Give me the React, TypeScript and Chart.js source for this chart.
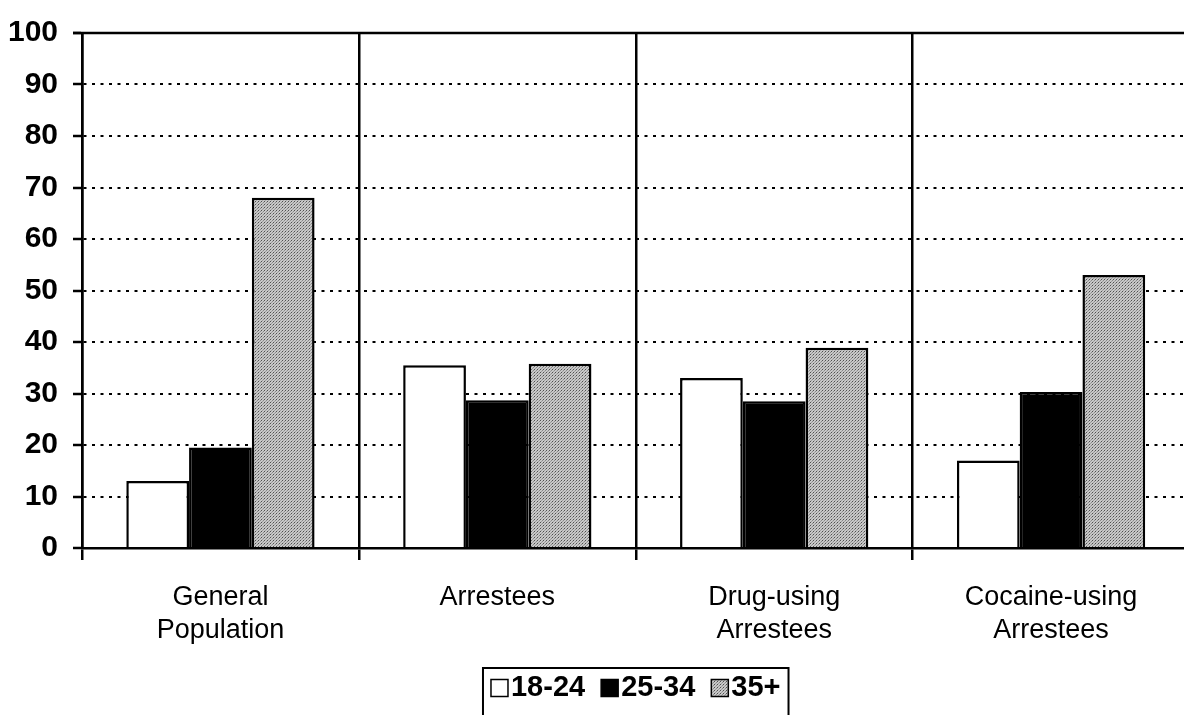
import React, { useEffect, useRef } from "react";
import { Chart, registerables } from "chart.js";

Chart.register(...registerables);

const categories: string[][] = [
  ["General", "Population"],
  ["Arrestees"],
  ["Drug-using", "Arrestees"],
  ["Cocaine-using", "Arrestees"],
];
const seriesLabels = ["18-24", "25-34", "35+"];
const age18to24 = [13, 35.5, 33, 17];
const age25to34 = [19.5, 28.7, 28.5, 30.3];
const age35plus = [68, 35.8, 38.9, 53];
const yTicks = [0, 10, 20, 30, 40, 50, 60, 70, 80, 90, 100];

const FONT = "'Liberation Sans', Arial, Helvetica, sans-serif";
const CANVAS_W = 1272;
const CANVAS_H = 730;

function makeStipple(): CanvasPattern | string {
  const c = document.createElement("canvas");
  c.width = 3;
  c.height = 3;
  const g = c.getContext("2d");
  if (!g) return "#b0b0b0";
  g.fillStyle = "#c8c8c8";
  g.fillRect(0, 0, 3, 3);
  g.fillStyle = "#505050";
  g.fillRect(0, 0, 1, 1);
  g.fillStyle = "#888888";
  g.fillRect(2, 1, 1, 1);
  g.fillStyle = "#9c9c9c";
  g.fillRect(1, 2, 1, 1);
  const p = g.createPattern(c, "repeat");
  return p || "#b0b0b0";
}

const frameAndLegend = {
  id: "frameAndLegend",
  afterDraw(chart: any) {
    const ctx = chart.ctx as CanvasRenderingContext2D;
    const area = chart.chartArea;
    ctx.save();
    // solid top border of plot area
    ctx.strokeStyle = "#000";
    ctx.lineWidth = 2.5;
    ctx.setLineDash([]);
    ctx.beginPath();
    ctx.moveTo(area.left - 9, area.top);
    ctx.lineTo(area.right, area.top);
    ctx.stroke();

    // boxed legend
    ctx.font = `bold 29px ${FONT}`;
    const box = 17;
    const gapBoxText = 3;
    const gapItems = 16;
    const padX = 8;
    const ds = chart.data.datasets;
    const widths = ds.map(
      (d: any) => box + gapBoxText + ctx.measureText(d.label).width
    );
    const total =
      widths.reduce((a: number, b: number) => a + b, 0) +
      gapItems * (widths.length - 1);
    const cx = (area.left + area.right) / 2;
    const left = cx - total / 2 - padX;
    const top = 668;
    ctx.lineWidth = 2;
    ctx.strokeRect(left, top, total + 2 * padX, 60);
    let x = left + padX;
    const midY = 688;
    ds.forEach((d: any, i: number) => {
      ctx.fillStyle = d.backgroundColor;
      ctx.fillRect(x, midY - box / 2, box, box);
      ctx.lineWidth = 1.5;
      ctx.strokeStyle = "#000";
      ctx.strokeRect(x, midY - box / 2, box, box);
      ctx.fillStyle = "#000";
      ctx.textBaseline = "middle";
      ctx.textAlign = "left";
      ctx.fillText(d.label, x + box + gapBoxText, midY);
      x += widths[i] + gapItems;
    });
    ctx.restore();
  },
};

export default function App() {
  const ref = useRef<HTMLCanvasElement | null>(null);

  useEffect(() => {
    const canvas = ref.current;
    if (!canvas) return;
    const stipple = makeStipple();
    const chart = new Chart(canvas, {
      type: "bar",
      data: {
        labels: categories,
        datasets: [
          {
            label: seriesLabels[0],
            data: age18to24,
            backgroundColor: "#ffffff",
            borderColor: "#000000",
            borderWidth: 2.5,
          },
          {
            label: seriesLabels[1],
            data: age25to34,
            backgroundColor: "#000000",
            borderColor: "#000000",
            borderWidth: 2.5,
          },
          {
            label: seriesLabels[2],
            data: age35plus,
            backgroundColor: stipple as any,
            borderColor: "#000000",
            borderWidth: 2.5,
          },
        ],
      },
      options: {
        responsive: false,
        animation: false,
        devicePixelRatio: 1,
        layout: { padding: { top: 26, right: 82.5, bottom: 0, left: 0 } },
        datasets: {
          bar: { categoryPercentage: 0.68, barPercentage: 1.0 },
        },
        plugins: {
          legend: { display: false },
          tooltip: { enabled: false },
        },
        scales: {
          x: {
            afterFit: (s: any) => {
              s.height = CANVAS_H - 548;
            },
            grid: {
              display: true,
              offset: true,
              color: "#000",
              lineWidth: 2.5,
              tickLength: 12,
              tickColor: "#000",
              tickWidth: 2.5,
            },
            border: { display: true, color: "#000", width: 2.5 },
            ticks: {
              color: "#000",
              padding: 21,
              maxRotation: 0,
              minRotation: 0,
              autoSkip: false,
              font: { family: FONT, size: 27, weight: "normal", lineHeight: 1.22 },
            },
          },
          y: {
            min: 0,
            max: 100,
            afterFit: (s: any) => {
              s.width = 82;
            },
            afterBuildTicks: (s: any) => {
              s.ticks = yTicks.map((v) => ({ value: v }));
            },
            grid: {
              color: (c: any) =>
                c.tick && (c.tick.value === 0 || c.tick.value === 100)
                  ? "rgba(0,0,0,0)"
                  : "#000",
              lineWidth: 2,
              tickLength: 9,
              tickColor: "#000",
              tickWidth: 2.5,
            },
            border: { display: true, color: "#000", width: 2.5, dash: [3, 5.5] },
            ticks: {
              color: "#000",
              padding: 15,
              font: { family: FONT, size: 30, weight: "bold" },
            },
          },
        },
      },
      plugins: [frameAndLegend],
    });
    return () => chart.destroy();
  }, []);

  return (
    <div
      style={{
        position: "fixed",
        left: 0,
        top: 0,
        width: 1184,
        height: 715,
        overflow: "hidden",
        background: "#fff",
      }}
    >
      <canvas
        ref={ref}
        width={CANVAS_W}
        height={CANVAS_H}
        style={{ display: "block", width: CANVAS_W, height: CANVAS_H }}
      />
    </div>
  );
}
